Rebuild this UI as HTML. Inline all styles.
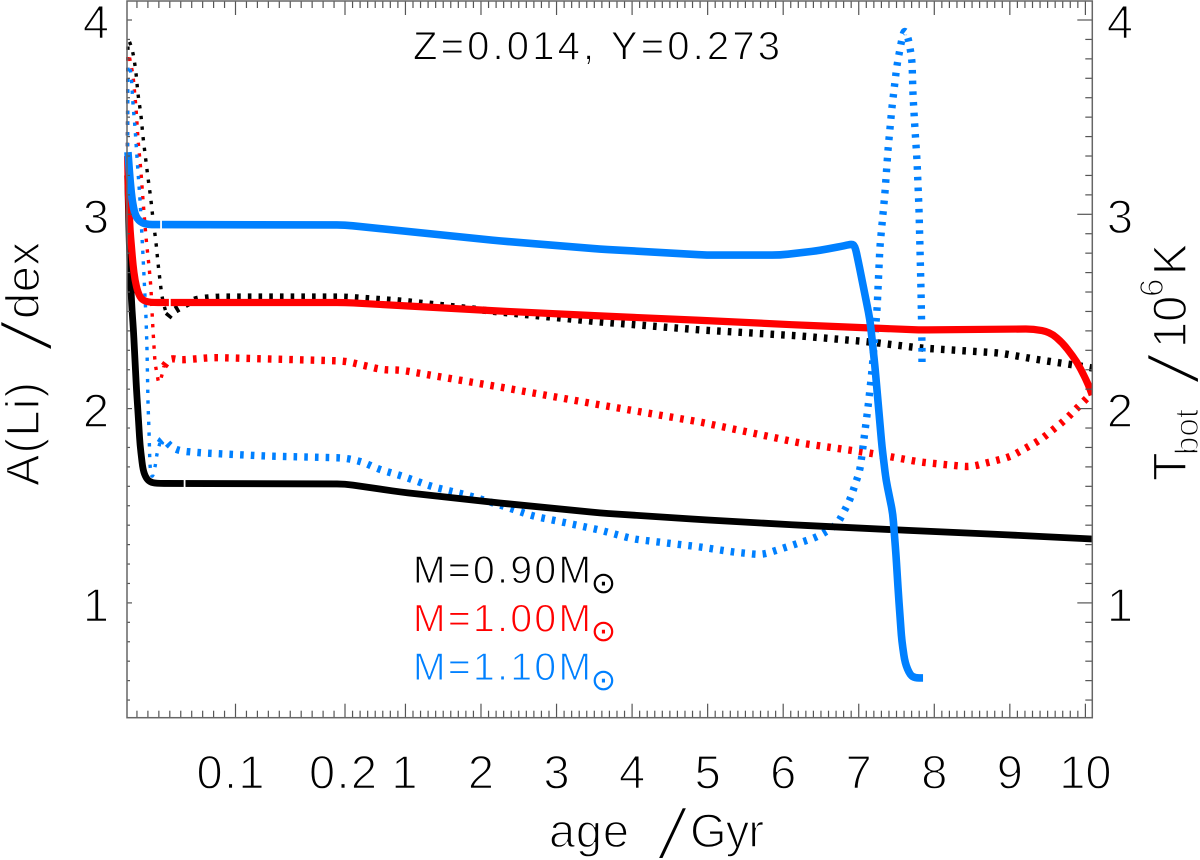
<!DOCTYPE html>
<html lang="en">
<head>
<meta charset="utf-8">
<title>A(Li) and Tbot versus age</title>
<style>
html,body{margin:0;padding:0;background:#fff;width:1200px;height:860px;overflow:hidden}
svg{display:block}
text{font-family:"Liberation Sans",sans-serif;stroke:#fff;stroke-width:1.4px}
text.note{stroke-width:1px}
text.slash{stroke-width:3.6px}
text.sun{font-family:"DejaVu Sans",sans-serif;stroke:none}
</style>
</head>
<body>
<svg id="chart" width="1200" height="860" viewBox="0 0 1200 860" xmlns="http://www.w3.org/2000/svg">
  <defs>
    <clipPath id="plot-clip"><rect x="110" y="0" width="982.5" height="718"></rect></clipPath>
  </defs>
  <rect width="1200" height="860" fill="#fff"></rect>
  <g id="dotted" clip-path="url(#plot-clip)"></g>
  <g id="solid" clip-path="url(#plot-clip)"></g>
  <g id="ticks"></g>
  <rect x="127" y="1" width="965.3" height="716.7" fill="none" stroke="#666" stroke-width="1.5"></rect>
  <g id="labels"></g>

  <text class="note" x="413" y="59.5" font-size="40" textLength="367" fill="#000">Z=0.014, Y=0.273</text>

  <text class="note" x="413" y="583" font-size="39" textLength="178" fill="#000">M=0.90M</text>
  <text class="sun" x="603.5" y="593" font-size="30" text-anchor="middle" fill="#000">⊙</text>
  <text class="note" x="413" y="631.5" font-size="39" textLength="178" fill="#ff0000">M=1.00M</text>
  <text class="sun" x="603.5" y="641" font-size="30" text-anchor="middle" fill="#ff0000">⊙</text>
  <text class="note" x="413" y="680" font-size="39" textLength="178" fill="#0080ff">M=1.10M</text>
  <text class="sun" x="603.5" y="690" font-size="30" text-anchor="middle" fill="#0080ff">⊙</text>

  <g>
    <text x="549" y="847" font-size="47" textLength="80" fill="#000">age</text>
    <text class="slash" x="655" y="859" font-size="72" textLength="35" lengthAdjust="spacingAndGlyphs" fill="#000">/</text>
    <text x="690" y="847" font-size="47" textLength="74" fill="#000">Gyr</text>
  </g>

  <g transform="translate(39,486) rotate(-90)">
    <text x="0" y="0" font-size="47" textLength="104" fill="#000">A(Li)</text>
    <text class="slash" x="133" y="13" font-size="72" textLength="35" lengthAdjust="spacingAndGlyphs" fill="#000">/</text>
    <text x="167" y="0" font-size="47" textLength="77" fill="#000">dex</text>
  </g>

  <g transform="translate(1186,481) rotate(-90)">
    <text x="0" y="0" font-size="47" fill="#000">T</text>
    <text x="26" y="12" font-size="33" fill="#000">bot</text>
    <text class="slash" x="95" y="13" font-size="72" textLength="35" lengthAdjust="spacingAndGlyphs" fill="#000">/</text>
    <text x="133" y="0" font-size="47" fill="#000">10</text>
    <text x="184" y="-23" font-size="33" fill="#000">6</text>
    <text x="206" y="0" font-size="47" fill="#000">K</text>
  </g>
</svg>
<script>
// Tick labels
const xTickLabels = ["0.1", "0.2", "1", "2", "3", "4", "5", "6", "7", "8", "9", "10"];
const xTickAges = [0.1, 0.2, 1, 2, 3, 4, 5, 6, 7, 8, 9, 10];
const yTickValues = [1, 2, 3, 4];

// Solid lines: surface lithium abundance A(Li)
const blackLiAges = [0.0015, 0.0032, 0.0041, 0.0055, 0.0068, 0.0096, 0.011, 0.0128, 0.0155, 0.0183, 0.0219, 0.0274, 0.2, 0.928, 2.25, 3.575, 4.9, 6.22, 7.55, 8.87, 10.09];
const blackLiValues = [3.2, 2.816, 2.66, 2.507, 2.405, 2.096, 1.977, 1.813, 1.684, 1.643, 1.622, 1.615, 1.612, 1.571, 1.514, 1.463, 1.429, 1.40, 1.375, 1.352, 1.329];
const redLiAges = [0.0015, 0.0021, 0.0037, 0.0064, 0.0082, 0.011, 0.0146, 0.0219, 0.2, 2.25, 3.575, 4.99, 6.22, 7.15, 7.81, 9.31, 9.53, 9.70, 9.89, 10.03, 10.09];
const redLiValues = [3.3, 3.125, 2.92, 2.74, 2.66, 2.595, 2.559, 2.546, 2.546, 2.502, 2.477, 2.453, 2.43, 2.415, 2.405, 2.41, 2.394, 2.338, 2.24, 2.132, 2.07];
const blueLiAges = [0.0018, 0.0037, 0.0055, 0.0082, 0.0128, 0.02, 0.2, 2.252, 3.575, 4.992, 5.958, 6.487, 6.818, 6.911, 6.95, 6.99, 7.083, 7.149, 7.215, 7.308, 7.361, 7.45, 7.493, 7.526, 7.569, 7.612, 7.679, 7.745, 7.851];
const blueLiValues = [3.32, 3.177, 3.074, 2.996, 2.96, 2.947, 2.945, 2.863, 2.821, 2.79, 2.79, 2.814, 2.839, 2.847, 2.837, 2.765, 2.585, 2.456, 2.214, 1.802, 1.633, 1.463, 1.247, 1.041, 0.809, 0.691, 0.629, 0.614, 0.614];

// Small breaks in the solid lines
const blackGapAge = 0.0535;
const redGapAge = 0.040;
const blueGapAge = 0.032;

// Dotted lines: temperature at the base of the envelope
const blackTAges = [0.0011, 0.0018, 0.0064, 0.0091, 0.011, 0.0137, 0.0155, 0.0201, 0.0228, 0.0247, 0.0274, 0.0292, 0.0326, 0.0347, 0.0381, 0.0417, 0.0566, 0.0648, 0.0831, 0.2, 0.928, 2.252, 3.575, 4.899, 6.222, 7.149, 7.811, 8.87, 9.4, 9.862, 10.09];
const blackTValues = [3.02, 3.913, 3.835, 3.732, 3.614, 3.511, 3.398, 3.187, 3.074, 2.971, 2.857, 2.749, 2.585, 2.528, 2.471, 2.497, 2.544, 2.564, 2.574, 2.574, 2.554, 2.497, 2.446, 2.405, 2.374, 2.343, 2.312, 2.286, 2.25, 2.224, 2.209];
const blackThinUntil = 0.0381;
const redTAges = [0.0011, 0.0018, 0.0064, 0.0091, 0.011, 0.0137, 0.0155, 0.0183, 0.021, 0.0228, 0.0237, 0.0247, 0.0265, 0.0283, 0.0301, 0.0329, 0.0347, 0.0402, 0.0493, 0.0795, 0.2, 0.703, 0.928, 2.252, 3.575, 4.899, 6.222, 7.149, 7.811, 8.473, 9.002, 9.4, 9.731, 9.995, 10.09];
const redTValues = [3.02, 3.846, 3.717, 3.552, 3.382, 3.218, 3.074, 2.878, 2.734, 2.621, 2.507, 2.399, 2.235, 2.178, 2.121, 2.173, 2.219, 2.26, 2.25, 2.263, 2.245, 2.199, 2.199, 2.111, 2.019, 1.931, 1.823, 1.771, 1.725, 1.699, 1.751, 1.838, 1.941, 2.044, 2.08];
const redThinUntil = 0.0347;
const blueTAges = [0.0011, 0.0018, 0.0046, 0.0064, 0.0082, 0.01, 0.0128, 0.0155, 0.0183, 0.0192, 0.0201, 0.021, 0.0219, 0.0237, 0.0265, 0.0283, 0.031, 0.0338, 0.0411, 0.0493, 0.0694, 0.1269, 0.2, 0.438, 0.637, 0.954, 1.365, 1.815, 2.252, 2.688, 3.138, 3.575, 4.012, 4.462, 4.899, 5.336, 5.719, 6.13, 6.448, 6.712, 6.884, 7.017, 7.123, 7.176, 7.242, 7.281, 7.347, 7.387, 7.44, 7.506, 7.58, 7.612, 7.66, 7.705, 7.718, 7.745, 7.771, 7.798, 7.824, 7.837, 7.837];
const blueTValues = [3.02, 3.784, 3.732, 3.563, 3.449, 3.295, 3.074, 2.791, 2.466, 2.302, 2.024, 1.89, 1.699, 1.638, 1.694, 1.772, 1.823, 1.849, 1.802, 1.782, 1.772, 1.756, 1.746, 1.725, 1.689, 1.653, 1.597, 1.555, 1.504, 1.447, 1.411, 1.375, 1.329, 1.308, 1.288, 1.262, 1.247, 1.298, 1.339, 1.401, 1.53, 1.684, 2.008, 2.199, 2.507, 2.837, 3.11, 3.331, 3.552, 3.768, 3.92, 3.95, 3.9, 3.794, 3.614, 3.434, 3.279, 3.022, 2.61, 2.327, 2.24];
const blueThinUntil = 0.031;

const NS = "http://www.w3.org/2000/svg";
function xScale(age) { return age <= 0.2 ? 126 + 1095 * age : 345 + (age - 0.2) * 75.55; }
function yScale(v) { return 20 + (4 - v) * 194.3; }
// Build a path through the points with softly rounded corners.
function pathOf(ages, values, from, to) {
  const p = [];
  for (let i = 0; i < ages.length; i++) {
    if (ages[i] >= from && ages[i] <= to) p.push([xScale(ages[i]), yScale(values[i])]);
  }
  let d = "M" + p[0][0].toFixed(2) + " " + p[0][1].toFixed(2);
  for (let i = 1; i < p.length - 1; i++) {
    const a = p[i - 1], b = p[i], c = p[i + 1];
    const l1 = Math.hypot(b[0] - a[0], b[1] - a[1]);
    const l2 = Math.hypot(c[0] - b[0], c[1] - b[1]);
    const r1 = Math.min(l1 / 2, 8), r2 = Math.min(l2 / 2, 8);
    const s = [b[0] - (b[0] - a[0]) * r1 / l1, b[1] - (b[1] - a[1]) * r1 / l1];
    const e = [b[0] + (c[0] - b[0]) * r2 / l2, b[1] + (c[1] - b[1]) * r2 / l2];
    d += "L" + s[0].toFixed(2) + " " + s[1].toFixed(2) + "Q" + b[0].toFixed(2) + " " + b[1].toFixed(2) + " " + e[0].toFixed(2) + " " + e[1].toFixed(2);
  }
  const last = p[p.length - 1];
  d += "L" + last[0].toFixed(2) + " " + last[1].toFixed(2);
  return d;
}
function valueAt(ages, values, age) {
  for (let i = 1; i < ages.length; i++) {
    if (age <= ages[i]) return values[i - 1] + (values[i] - values[i - 1]) * (age - ages[i - 1]) / (ages[i] - ages[i - 1]);
  }
  return values[values.length - 1];
}
function makeLine(parent, d, color, width, dash) {
  const el = document.createElementNS(NS, "path");
  el.setAttribute("d", d);
  el.setAttribute("fill", "none");
  el.setAttribute("stroke", color);
  el.setAttribute("stroke-width", width);
  if (dash) { el.setAttribute("stroke-dasharray", dash); }
  el.setAttribute("stroke-linejoin", "round");
  parent.appendChild(el);
  return el;
}
const dottedGroup = document.getElementById("dotted");
const solidGroup = document.getElementById("solid");

function drawDotted(ages, values, thinUntil, color, thinName, thickName) {
  const thin = makeLine(dottedGroup, pathOf(ages, values, 0, thinUntil), color, 3.4, "3.4 7.3");
  
  
  const thick = makeLine(dottedGroup, pathOf(ages, values, thinUntil, 99), color, 7.4, "3.6 7.1");
  
  
}
drawDotted(blackTAges, blackTValues, blackThinUntil, "#000", "tbot-line-0-90-early", "tbot-line-0-90");
drawDotted(redTAges, redTValues, redThinUntil, "#ff0000", "tbot-line-1-00-early", "tbot-line-1-00");
drawDotted(blueTAges, blueTValues, blueThinUntil, "#0080ff", "tbot-line-1-10-early", "tbot-line-1-10");

function drawSolid(ages, values, gapAge, color, width, name, gapName) {
  const line = makeLine(solidGroup, pathOf(ages, values, 0, 99), color, width, null);
  
  
  const gx = xScale(gapAge), gy = yScale(valueAt(ages, values, gapAge));
  const gap = document.createElementNS(NS, "line");
  gap.setAttribute("x1", gx); gap.setAttribute("x2", gx);
  gap.setAttribute("y1", gy - 5); gap.setAttribute("y2", gy + 5);
  gap.setAttribute("stroke", "#fff"); gap.setAttribute("stroke-width", 1.8);
  
  
  solidGroup.appendChild(gap);
}
drawSolid(blackLiAges, blackLiValues, blackGapAge, "#000", 6.8, "li-line-0-90", "li-line-0-90-break");
drawSolid(redLiAges, redLiValues, redGapAge, "#ff0000", 7.2, "li-line-1-00", "li-line-1-00-break");
drawSolid(blueLiAges, blueLiValues, blueGapAge, "#0080ff", 7.6, "li-line-1-10", "li-line-1-10-break");

// Ticks
const tickGroup = document.getElementById("ticks");
function tick(x1, y1, x2, y2, name) {
  const t = document.createElementNS(NS, "line");
  t.setAttribute("x1", x1); t.setAttribute("y1", y1);
  t.setAttribute("x2", x2); t.setAttribute("y2", y2);
  t.setAttribute("stroke", "#555"); t.setAttribute("stroke-width", 1.2);
  
  
  tickGroup.appendChild(t);
}
function xTick(age) {
  const rounded = Math.round(age * 100) / 100;
  const major = xTickAges.indexOf(rounded) >= 0;
  const len = major ? 14 : 7;
  const px = xScale(rounded);
  tick(px, 717.7, px, 717.7 - len, "x-tick-bottom");
  tick(px, 1, px, 1 + len, "x-tick-top");
}
for (let i = 1; i <= 20; i++) xTick(i * 0.01);
for (let i = 3; i <= 100; i++) xTick(i * 0.1);
for (let i = 5; i <= 40; i++) {
  const v = i / 10;
  const major = yTickValues.indexOf(v) >= 0;
  const py = yScale(v);
  tick(127, py, 127 + (major ? 5 : 3), py, "y-tick-left");
  tick(1092.3, py, 1092.3 - (major ? 15 : 7), py, "y-tick-right");
}

// Tick labels
const labelGroup = document.getElementById("labels");
function label(txt, x, y, name) {
  const el = document.createElementNS(NS, "text");
  el.textContent = txt;
  el.setAttribute("x", x);
  el.setAttribute("y", y);
  el.setAttribute("font-size", 47);
  el.setAttribute("text-anchor", "middle");
  el.setAttribute("fill", "#000");
  
  
  if (txt.indexOf(".") >= 0) el.setAttribute("textLength", 68);
  labelGroup.appendChild(el);
}
xTickLabels.forEach(function (txt, i) {
  const offset = xTickAges[i] < 0.15 ? -5 : (xTickAges[i] < 1 ? -2 : (xTickAges[i] === 1 ? -1 : 0));
  label(txt, xScale(xTickAges[i]) + offset, 788.5, "x-tick-label");
});
yTickValues.forEach(function (v) {
  label(String(v), 96, yScale(v) + 18.5, "y-tick-label-left");
  label(String(v), 1120, yScale(v) + 18.5, "y-tick-label-right");
});
</script>
</body>
</html>
